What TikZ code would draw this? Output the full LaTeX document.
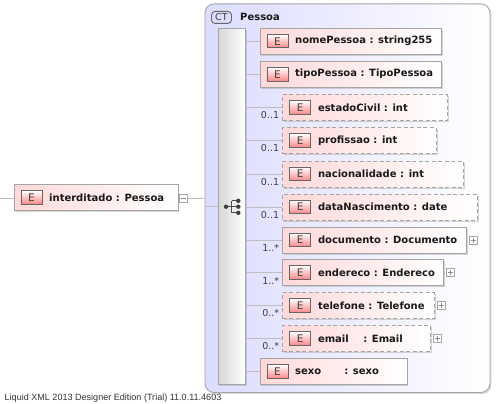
\documentclass[tikz,border=0pt]{standalone}
\usepackage{fontspec}
\setmainfont{DejaVu Sans}
\newfontfamily\footfont{Liberation Sans}
\usetikzlibrary{shadows,calc}
\definecolor{framec}{RGB}{165,165,170}
\definecolor{ctl}{RGB}{220,220,255}
\definecolor{boxl}{RGB}{255,216,216}
\definecolor{edgec}{RGB}{165,165,165}
\definecolor{wirec}{RGB}{190,190,190}
\definecolor{iconl}{RGB}{250,135,135}
\tikzset{
  x=1pt,y=-1pt,
  softshadow/.style={general shadow={fill=black!40,opacity=.4,shadow xshift=1.5pt,shadow yshift=-1.5pt}},
  elbox/.style={draw=edgec,line width=0.9pt,left color=boxl,right color=white,anchor=north west,
    inner sep=0pt,minimum height=26pt,softshadow},
  optbox/.style={elbox,dash pattern=on 4pt off 2.5pt},
  iconbox/.style={draw=black!60,line width=0.9pt,top color=white,bottom color=iconl,anchor=north west,
    minimum width=21pt,minimum height=13.5pt,inner sep=0pt,font=\fontsize{10.5}{12}\selectfont,text=black!75},
  ellabel/.style={anchor=west,inner sep=0pt,font=\bfseries\fontsize{10}{12}\selectfont,text=black!90},
  occ/.style={anchor=south east,inner sep=0pt,font=\fontsize{9.5}{11}\selectfont,text=black!75},
  wire/.style={draw=wirec,line width=0.8pt},
  plusbox/.style={draw=black!35,fill=white,line width=0.7pt,minimum size=8pt,inner sep=0pt},
}
\newcommand{\element}[6]{% name, style, x0, y0, width, label
  \node[#2,minimum width=#5pt] (#1) at (#3,#4) {};
  \node[iconbox] (#1icon) at ($(#3,#4)+(7,6)$) {E};
  \node[ellabel] (#1label) at ($(#3,#4)+(35.5,13)$) {#6};
}
\begin{document}
\begin{tikzpicture}
\useasboundingbox (0,0) rectangle (503,404);
\fill[white] (0,0) rectangle (503,404);
% complex type frame
\node[draw=framec,line width=0.9pt,left color=ctl,right color=white,rounded corners=9pt,
  anchor=north west,minimum width=285pt,minimum height=388.5pt,inner sep=0pt,softshadow] (frame) at (204.5,3.5) {};
\node[draw=black!60,fill=ctl,rounded corners=3.5pt,line width=0.9pt,anchor=north west,minimum width=20pt,minimum height=12pt,
  inner sep=0pt,font=\fontsize{9.5}{11}\selectfont,text=black!75] (ctbadge) at (211,11) {CT};
\node[ellabel] (cttitle) at (240,16.5) {Pessoa};
% sequence bar
\node[draw=edgec,line width=0.9pt,left color=black!16,right color=white,anchor=north west,
  minimum width=27.5pt,minimum height=356pt,inner sep=0pt,softshadow] (bar) at (217.5,28) {};
% sequence icon
\coordinate (seqa) at (226,206.7);
\coordinate (seqt) at (238.3,200.8);
\coordinate (seqm) at (238.3,206.7);
\coordinate (seqb) at (238.3,212.8);
\draw[black!70,line width=1pt] (seqa) -- (seqm) (231.7,200.8) -- (231.7,212.8) (231.7,200.8) -- (seqt) (231.7,212.8) -- (seqb);
\fill[black!75] (seqa) circle [radius=2.2pt] (seqt) circle [radius=2.2pt] (seqm) circle [radius=2.2pt] (seqb) circle [radius=2.2pt];
% root
\element{root}{elbox}{13.5}{184.3}{164}{interditado : Pessoa}
\node[plusbox] (rootm) at (183.2,198.6) {};
\draw[black!45,line width=.7pt] ($(rootm)+(-2.5,0)$) -- ($(rootm)+(2.5,0)$);
\coordinate (rootin) at (0,198.3);
\coordinate (frameelbow) at (205,198.3);
\draw[wire] (rootin) -- (rootin-|root.west);
\draw[wire] (rootm.east) -- (frameelbow);
\coordinate (barin) at (205,206);
\draw[wire] (barin) -- (barin-|bar.west);
% children
\element{nome}{elbox}{259.5}{28}{181.5}{nomePessoa : string255}
\element{tipo}{elbox}{259.5}{61}{181.5}{tipoPessoa : TipoPessoa}
\element{civil}{optbox}{282.3}{94.3}{164.5}{estadoCivil : int}
\element{prof}{optbox}{282.3}{127.3}{153.5}{profissao : int}
\element{nac}{optbox}{282.3}{160.7}{180.5}{nacionalidade : int}
\element{data}{optbox}{282.3}{193.7}{194.5}{dataNascimento : date}
\element{doc}{elbox}{282.3}{226.7}{184}{documento : Documento}
\element{ende}{elbox}{282.3}{259.3}{161}{endereco : Endereco}
\element{tel}{optbox}{282.3}{292.3}{151.5}{telefone : Telefone}
\element{mail}{optbox}{282.3}{325.3}{147.5}{email\hspace{1.45em}: Email}
\element{sexo}{elbox}{259.5}{358.3}{147}{sexo\hspace{2.3em}: sexo}
% connectors
\foreach \n in {nome,tipo,civil,prof,nac,data,doc,ende,tel,mail,sexo}
  \draw[wire] (bar.east|-\n.west) -- (\n.west);
% occurrences
\foreach \n/\t in {civil/0..1,prof/0..1,nac/0..1,data/0..1,doc/1..*,ende/1..*,tel/0..*,mail/0..*}
  \node[occ] (\n occ) at ($(\n.south west)+(-3,-2)$) {\t};
% expanders
\foreach \n in {doc,ende,tel,mail}{
  \node[plusbox,anchor=west] (\n plus) at ($(\n.east)+(2,0)$) {};
  \draw[black!45,line width=.7pt] ($(\n plus)+(-2.5,0)$) -- ($(\n plus)+(2.5,0)$) ($(\n plus)+(0,-2.5)$) -- ($(\n plus)+(0,2.5)$);
}
\node[anchor=base west,inner sep=0pt,font=\footfont\fontsize{9.05}{10}\selectfont,text=black!80] (foot) at (4.5,400.5) {Liquid XML 2013 Designer Edition (Trial) 11.0.11.4603};
\end{tikzpicture}
\end{document}
